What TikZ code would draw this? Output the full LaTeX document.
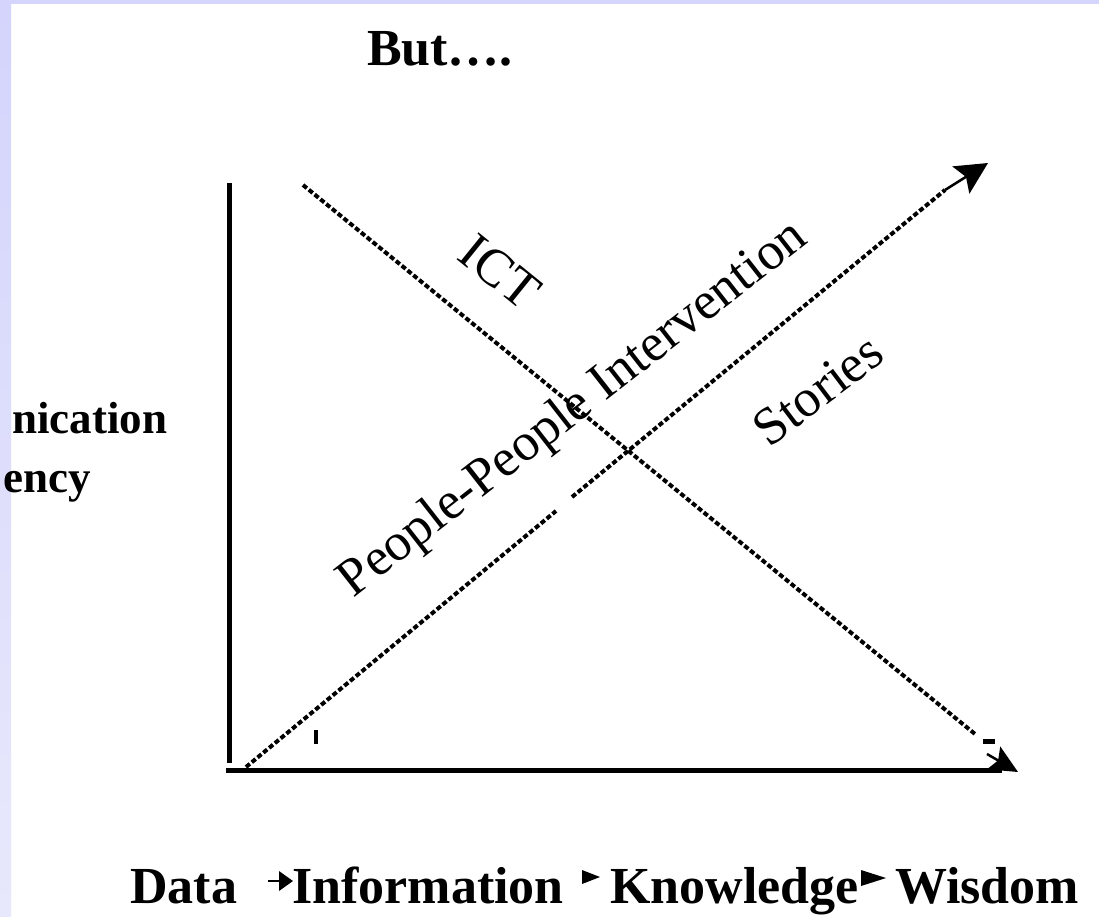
\documentclass[tikz,border=0pt]{standalone}
\usepackage{fontspec}
\setmainfont{Liberation Serif}
\usetikzlibrary{arrows.meta}
\definecolor{lavtop}{RGB}{212,212,252}
\definecolor{lavbot}{RGB}{232,232,252}
\begin{document}
\begin{tikzpicture}[x=1pt,y=-1pt,
  boldtxt/.style={font=\fontsize{52}{60}\selectfont\bfseries, inner sep=0pt, anchor=base west},
  sidetxt/.style={font=\fontsize{45}{54}\selectfont\bfseries, inner sep=0pt, anchor=base west},
  slanttxt/.style={font=\fontsize{53}{60}\selectfont, inner sep=0pt},
  axisline/.style={line width=5pt},
  diagline/.style={line width=4pt, dash pattern=on 5pt off 2.5pt},
  headline/.style={line width=2.5pt, -{Stealth[length=32pt,width=32pt,inset=6pt]}},
  headline2/.style={line width=2.5pt, -{Stealth[length=28pt,width=26pt,inset=5pt]}},
  tri/.style={fill=black}
]
\useasboundingbox (0,0) rectangle (1099,916);
\fill[white] (0,0) rectangle (1099,916);
\shade[top color=lavtop, bottom color=lavbot] (0,0) rectangle (11,916);
\fill[lavtop] (0,0) rectangle (1099,4);

% title
\node[boldtxt, anchor=base] (title) at (440,65) {But….};

% side label (clipped by the page edge)
\node[sidetxt] (ylab1) at (12,433) {nication};
\node[sidetxt] (ylab2) at (3,492) {ency};

% axes
\coordinate (vtop) at (229,183);
\coordinate (vbot) at (229,763);
\draw[axisline] (vtop) -- (vbot);
\coordinate (hl) at (226,770);
\coordinate (hr) at (1002,770);
\draw[axisline] (hl) -- (hr);

% rising line (People-People Intervention / Stories)
\coordinate (r0) at (246,767);
\coordinate (r1) at (556,511);
\coordinate (r2) at (572,497);
\coordinate (r3) at (945,190);
\coordinate (rt) at (988,163);
\draw[diagline] (r0) -- (r1);
\draw[diagline] (r2) -- (r3);
\draw[headline] (r3) -- (rt);

% falling line (ICT)
\coordinate (f0) at (303,185);
\coordinate (f1) at (975,734);
\coordinate (f2) at (987,754);
\coordinate (ft) at (1018,772);
\draw[diagline] (f0) -- (f1);
\draw[headline2] (f2) -- (ft);

% small marks
\fill (314,730) rectangle (318,744);
\fill (983,739) rectangle (995,744);

% slanted labels
\node[slanttxt, rotate=38] (pp) at (574,410) {People-People Intervention};
\node[slanttxt, rotate=-39] (ict) at (500,272) {ICT};
\node[slanttxt, rotate=37] (stories) at (818,390) {Stories};

% bottom sequence
\node[boldtxt] (data) at (130,903) {Data};
\node[boldtxt] (info) at (292,903) {Information};
\node[boldtxt] (know) at (610,903) {Knowledge};
\node[boldtxt] (wis) at (895,903) {Wisdom};
\coordinate (a1s) at (268,881);
\coordinate (a1e) at (280,881);
\draw[line width=2pt] (a1s) -- (a1e);
\fill[tri] (279,871) -- (293,881) -- (279,891) -- cycle;
\fill[tri] (582,870) -- (600,877) -- (582,884) -- cycle;
\fill[tri] (861,870) -- (886,878) -- (861,886) -- cycle;
\end{tikzpicture}
\end{document}
